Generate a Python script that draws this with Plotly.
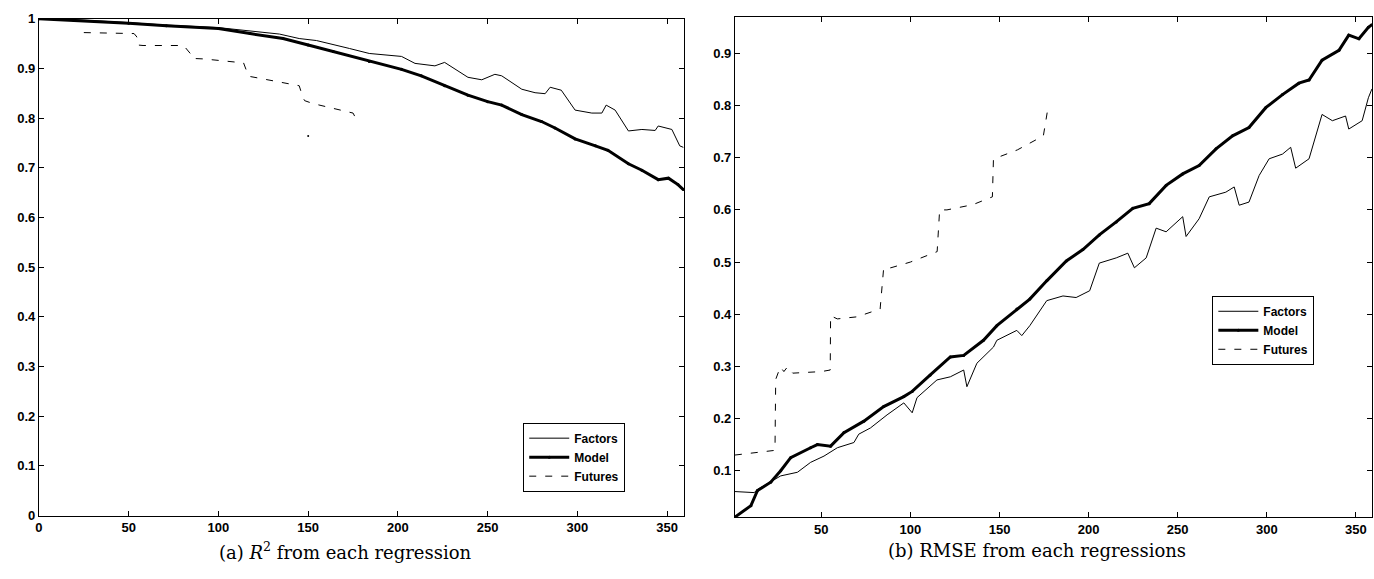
import plotly.graph_objects as go

# ---------------- Left panel: R^2 ----------------
r2_factors_x = [0, 20, 50, 71, 100, 117.6, 134, 145, 154.6, 173, 184, 202, 209.5, 220.6, 226, 239, 246.7,
                254, 257.8, 269, 276.4, 282, 284.8, 291, 298.7, 308, 313.6, 316, 321, 328.4, 335.9,
                343.3, 345, 352.6, 357, 359]
r2_factors_y = [1.0, 0.998, 0.992, 0.987, 0.982, 0.975, 0.969, 0.96, 0.956, 0.94, 0.93, 0.924, 0.91, 0.905,
                0.912, 0.882, 0.877, 0.888, 0.885, 0.858, 0.851, 0.849, 0.862, 0.856, 0.816, 0.81, 0.81,
                0.826, 0.816, 0.774, 0.777, 0.775, 0.784, 0.777, 0.744, 0.741]

r2_model_x = [0, 19.4, 50, 71, 100, 117.6, 136, 150, 164, 184, 202, 213, 226, 239, 250, 257.8, 269, 280,
              287.5, 298.7, 310, 317, 328.4, 335.9, 345, 350.7, 356, 359]
r2_model_y = [1.0, 0.997, 0.991, 0.986, 0.98, 0.97, 0.96, 0.947, 0.934, 0.914, 0.898, 0.885, 0.865, 0.846,
              0.833, 0.826, 0.807, 0.793, 0.78, 0.758, 0.744, 0.735, 0.708, 0.695, 0.676, 0.679, 0.666,
              0.656]

r2_futures_x = [25, 53, 54.6, 55, 58, 80.6, 85, 85.5, 91.7, 114, 116.7, 117, 123, 145, 147, 148, 152.8,
                175, 177.8]
r2_futures_y = [0.972, 0.970, 0.963, 0.947, 0.946, 0.946, 0.927, 0.92, 0.919, 0.911, 0.885, 0.884, 0.88,
                0.865, 0.842, 0.835, 0.829, 0.81, 0.79]
# isolated Futures value near x=150
r2_futures_out_x = [150]
r2_futures_out_y = [0.764]

# ---------------- Right panel: RMSE ----------------
rmse_factors_x = [1.5, 6.7, 12.3, 14.2, 21.6, 27.2, 36.6, 44, 51.5, 59, 68.3, 71, 77.6, 86.9, 96.3, 101,
                  103.7, 114.9, 122.4, 129.9, 131.7, 137.3, 146.6, 148.5, 159.7, 162.5, 167, 176.5, 185.6,
                  193, 200.6, 206, 215.5, 222, 225.7, 232.3, 237.9, 243.5, 252.8, 254.7, 262, 267.7, 277,
                  281.7, 284.5, 290, 295.7, 301.3, 308.8, 313.4, 316.2, 323.7, 331, 336.8, 344.2, 346,
                  353.5, 357, 359]
rmse_factors_y = [0.06, 0.059, 0.058, 0.064, 0.078, 0.09, 0.097, 0.116, 0.128, 0.144, 0.154, 0.17, 0.182,
                  0.207, 0.23, 0.211, 0.24, 0.274, 0.28, 0.293, 0.261, 0.306, 0.337, 0.35, 0.369, 0.359,
                  0.378, 0.426, 0.435, 0.432, 0.445, 0.498, 0.508, 0.517, 0.489, 0.508, 0.565, 0.558,
                  0.587, 0.549, 0.583, 0.625, 0.634, 0.644, 0.609, 0.615, 0.666, 0.698, 0.707, 0.72, 0.68,
                  0.698, 0.783, 0.771, 0.78, 0.755, 0.771, 0.815, 0.832]

rmse_model_x = [1.5, 10.5, 14.2, 21.6, 27.2, 32.8, 44, 47.8, 55.2, 62.7, 73.9, 85, 96.3, 101, 111, 122.4,
                129.9, 141, 148.5, 159.7, 167, 176.5, 187.5, 196.8, 206, 215.5, 224.8, 234, 243.5, 252.8,
                262, 271.5, 280.8, 290, 299.4, 308.8, 318, 323.7, 331, 340.5, 346, 351.7, 357, 359]
rmse_model_y = [0.011, 0.033, 0.062, 0.078, 0.1, 0.125, 0.144, 0.15, 0.147, 0.173, 0.195, 0.223, 0.242,
                0.252, 0.283, 0.318, 0.321, 0.35, 0.378, 0.41, 0.429, 0.464, 0.502, 0.524, 0.552, 0.577,
                0.603, 0.612, 0.647, 0.669, 0.685, 0.717, 0.742, 0.758, 0.796, 0.821, 0.843, 0.849, 0.887,
                0.906, 0.935, 0.928, 0.95, 0.955]

rmse_futures_x = [1.5, 24, 24.4, 27, 29, 31, 34, 50, 55, 55.2, 59, 70, 83, 85, 89, 100, 115, 116.4, 120.5,
                  135, 146, 146.6, 148.5, 160, 174.6, 177.4]
rmse_futures_y = [0.13, 0.139, 0.275, 0.299, 0.29, 0.299, 0.287, 0.29, 0.293, 0.397, 0.391, 0.395, 0.41,
                  0.489, 0.489, 0.5, 0.52, 0.6, 0.6, 0.61, 0.625, 0.698, 0.70, 0.715, 0.742, 0.80]

left_yticks = [0, 0.1, 0.2, 0.3, 0.4, 0.5, 0.6, 0.7, 0.8, 0.9, 1]
left_ytext = ["0", "0.1", "0.2", "0.3", "0.4", "0.5", "0.6", "0.7", "0.8", "0.9", "1"]
left_xticks = [0, 50, 100, 150, 200, 250, 300, 350]
right_yticks = [0.1, 0.2, 0.3, 0.4, 0.5, 0.6, 0.7, 0.8, 0.9]
right_xticks = [50, 100, 150, 200, 250, 300, 350]

caption_a = "(a) <i>R</i><sup>2</sup> from each regression"
caption_b = "(b) RMSE from each regressions"

fig = go.Figure()

tickfont = dict(family="Liberation Sans, Arial, sans-serif", size=13, color="black", weight="bold")
dash_style = "7px,9px"

# Left traces
fig.add_trace(go.Scatter(x=r2_factors_x, y=r2_factors_y, mode="lines", name="Factors",
                         line=dict(color="black", width=1), xaxis="x", yaxis="y", legend="legend"))
fig.add_trace(go.Scatter(x=r2_model_x, y=r2_model_y, mode="lines+markers", name="Model",
                         line=dict(color="black", width=3), marker=dict(size=3, color="black"),
                         xaxis="x", yaxis="y", legend="legend"))
fig.add_trace(go.Scatter(x=r2_futures_x, y=r2_futures_y, mode="lines", name="Futures",
                         line=dict(color="black", width=1, dash=dash_style), xaxis="x", yaxis="y",
                         legend="legend"))
fig.add_trace(go.Scatter(x=r2_futures_out_x, y=r2_futures_out_y, mode="markers", showlegend=False,
                         marker=dict(size=2, color="black"), xaxis="x", yaxis="y"))

# Right traces
fig.add_trace(go.Scatter(x=rmse_factors_x, y=rmse_factors_y, mode="lines", name="Factors",
                         line=dict(color="black", width=1), xaxis="x2", yaxis="y2", legend="legend2"))
fig.add_trace(go.Scatter(x=rmse_model_x, y=rmse_model_y, mode="lines+markers", name="Model",
                         line=dict(color="black", width=3), marker=dict(size=3, color="black"),
                         xaxis="x2", yaxis="y2", legend="legend2"))
fig.add_trace(go.Scatter(x=rmse_futures_x, y=rmse_futures_y, mode="lines", name="Futures",
                         line=dict(color="black", width=1, dash=dash_style), xaxis="x2", yaxis="y2",
                         legend="legend2"))

axis_common = dict(showgrid=False, zeroline=False, showline=True, linecolor="black", linewidth=1,
                   mirror="ticks", ticks="inside", ticklen=5, tickcolor="black", tickwidth=1,
                   tickfont=tickfont)

legend_common = dict(bgcolor="white", bordercolor="black", borderwidth=1,
                     font=dict(family="Liberation Sans, Arial, sans-serif", size=12, color="black",
                               weight="bold"),
                     tracegroupgap=0, itemwidth=40, xanchor="left", yanchor="top")

fig.update_layout(
    width=1374, height=579,
    margin=dict(l=0, r=0, t=0, b=0),
    paper_bgcolor="white", plot_bgcolor="white",
    xaxis=dict(domain=[0.0255, 0.4964], range=[0, 359.4], tickvals=left_xticks, anchor="y", **axis_common),
    yaxis=dict(domain=[0.0984, 0.9793], range=[0, 1], tickvals=left_yticks, ticktext=left_ytext,
               anchor="x", **axis_common),
    xaxis2=dict(domain=[0.5335, 0.9985], range=[1.5, 359], tickvals=right_xticks, anchor="y2",
                **axis_common),
    yaxis2=dict(domain=[0.095, 0.9815], range=[0.0104, 0.969], tickvals=right_yticks, anchor="x2",
                **axis_common),
    legend=dict(x=0.379, y=0.263, **legend_common),
    legend2=dict(x=0.882, y=0.488, **legend_common),
    annotations=[
        dict(text=caption_a, x=0.249, y=0.036, xref="paper", yref="paper", showarrow=False,
             yanchor="middle", xanchor="center",
             font=dict(family="DejaVu Serif, Liberation Serif, serif", size=18, color="black")),
        dict(text=caption_b, x=0.754, y=0.036, xref="paper", yref="paper", showarrow=False,
             yanchor="middle", xanchor="center",
             font=dict(family="DejaVu Serif, Liberation Serif, serif", size=18, color="black")),
    ],
)

fig.write_html("out.html")
